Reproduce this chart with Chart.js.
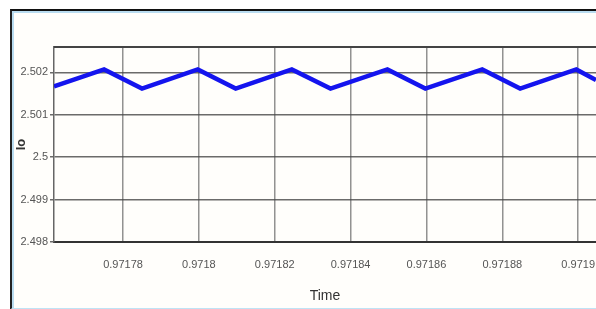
<!DOCTYPE html>
<html>
<head>
<meta charset="utf-8">
<script src="https://cdn.jsdelivr.net/npm/chart.js@4/dist/chart.umd.min.js"></script>
<style>
  html, body { margin: 0; padding: 0; background: #fff; }
  #wrap { position: relative; width: 596px; height: 309px; overflow: hidden; }
  #frame {
    position: absolute; left: 10px; top: 9px; width: 600px; height: 297px;
    background: #fffefb;
    border-top: 2px solid #111; border-left: 2px solid #222;
    border-bottom: 2px solid #bfe3f5;
    box-shadow: inset 2px 2px 0 #b9dcf0;
  }
  #c { position: absolute; left: 0; top: 0; }
</style>
</head>
<body>
<div id="wrap">
  <div id="frame"></div>
  <canvas id="c" width="596" height="309"></canvas>
</div>
<script>
// values
const timeValues = [0.9717618, 0.9717750, 0.9717850, 0.9717997, 0.9718097, 0.9718245, 0.9718347,
                    0.9718497, 0.9718597, 0.9718747, 0.9718847, 0.9718995, 0.9719047];
const ioValues = [2.50167, 2.50207, 2.50162, 2.50207, 2.50162, 2.50207, 2.50162,
                  2.50207, 2.50162, 2.50207, 2.50162, 2.50207, 2.50182];
const xTicks = [0.97178, 0.9718, 0.97182, 0.97184, 0.97186, 0.97188, 0.9719];
const xTickLabels = ['0.97178', '0.9718', '0.97182', '0.97184', '0.97186', '0.97188', '0.9719'];
const yTicks = [2.498, 2.499, 2.5, 2.501, 2.502];
const yTickLabels = ['2.498', '2.499', '2.5', '2.501', '2.502'];

const points = timeValues.map((t, i) => ({ x: t, y: ioValues[i] }));
const narrow = "'Liberation Sans Narrow', 'Liberation Sans', sans-serif";
const condensed = 'normal condensed'; // goes into the canvas font shorthand

// top edge of the axes box
const topEdge = {
  id: 'topEdge',
  afterDraw(chart) {
    const a = chart.chartArea, ctx = chart.ctx;
    ctx.save();
    ctx.strokeStyle = '#444';
    ctx.lineWidth = 2;
    ctx.beginPath();
    ctx.moveTo(a.left, a.top);
    ctx.lineTo(a.right, a.top);
    ctx.stroke();
    ctx.restore();
  }
};

new Chart(document.getElementById('c'), {
  type: 'line',
  data: {
    datasets: [{
      data: points,
      borderColor: '#1414ee',
      borderWidth: 4.5,
      pointRadius: 0,
      tension: 0,
      borderJoinStyle: 'miter'
    }]
  },
  options: {
    responsive: false,
    animation: false,
    layout: { padding: { top: 47, right: 0, left: 0, bottom: 0 } },
    plugins: { legend: { display: false }, tooltip: { enabled: false } },
    scales: {
      x: {
        type: 'linear',
        min: 0.9717618,
        max: 0.9719047,
        afterBuildTicks: s => { s.ticks = xTicks.map(v => ({ value: v })); },
        afterFit: s => { s.height = 67; s.paddingRight = 0; s.paddingLeft = 0; },
        ticks: {
          padding: 16,
          color: '#555',
          font: { family: narrow, size: 11, weight: condensed },
          maxRotation: 0,
          callback: (v) => { const i = xTicks.indexOf(v); return i >= 0 ? xTickLabels[i] : ''; }
        },
        grid: { color: 'rgba(110,110,110,0.75)', lineWidth: 1.5, tickLength: 0 },
        border: { color: '#333', width: 2 },
        title: {
          display: true, text: 'Time', color: '#333',
          font: { family: narrow, size: 14, weight: condensed },
          padding: { top: 0, bottom: 4 }
        }
      },
      y: {
        min: 2.498,
        max: 2.5026,
        afterBuildTicks: s => { s.ticks = yTicks.map(v => ({ value: v })); },
        afterFit: s => { s.width = 54; },
        ticks: {
          padding: 2,
          color: '#555',
          font: { family: narrow, size: 11, weight: condensed },
          callback: (v) => { const i = yTicks.indexOf(v); return i >= 0 ? yTickLabels[i] : ''; }
        },
        grid: { color: 'rgba(70,70,70,0.8)', lineWidth: 1.5, tickLength: 4 },
        border: { color: '#666', width: 1.5 },
        title: {
          display: true, text: 'Io', color: '#333',
          font: { family: narrow, size: 13, weight: 'bold condensed' },
          padding: { top: 14, bottom: 0 }
        }
      }
    }
  },
  plugins: [topEdge]
});
</script>
</body>
</html>
